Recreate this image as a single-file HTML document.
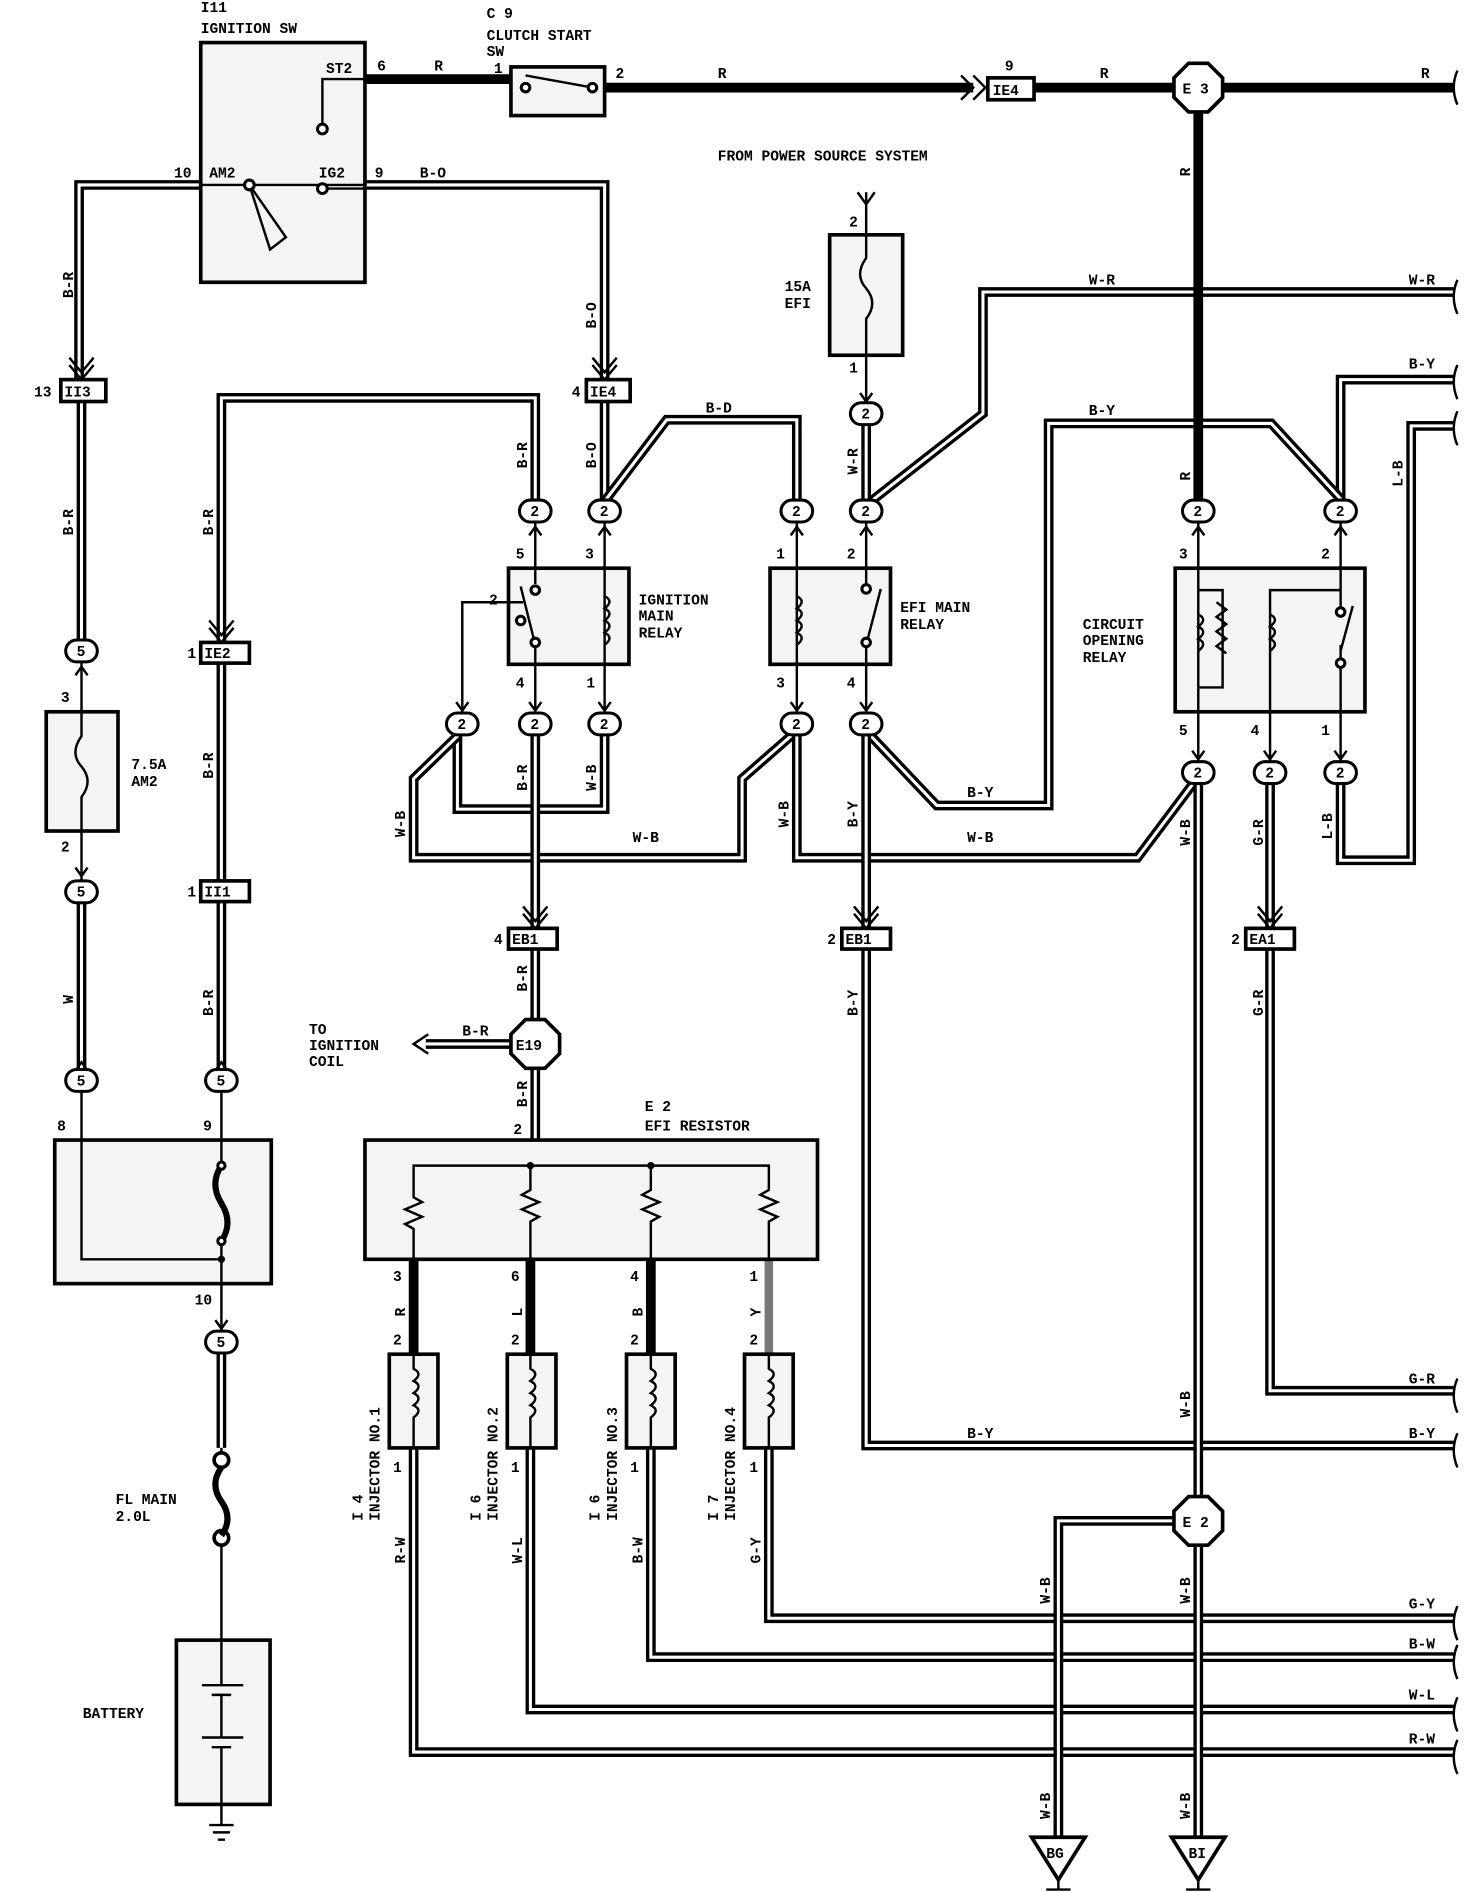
<!DOCTYPE html>
<html><head><meta charset="utf-8"><style>
html,body{margin:0;padding:0;background:#fff}
svg{display:block}
text{font-family:"Liberation Mono",monospace;font-weight:bold;font-size:12px;fill:#000}
.o{fill:none;stroke:#000;stroke-width:8;stroke-linejoin:miter}
.i{fill:none;stroke:#fff;stroke-width:2.5;stroke-linejoin:miter}
.t{fill:none;stroke:#000;stroke-width:2}
.k{fill:none;stroke:#000;stroke-width:8}
.bx{fill:#f4f4f4;stroke:#000;stroke-width:3}
.cn{fill:#fff;stroke:#000;stroke-width:2.5}
</style></head><body>
<svg width="1472" height="1892" viewBox="0 0 1210 1555" preserveAspectRatio="none" xmlns="http://www.w3.org/2000/svg">
<path class="o" d="M165,152 H65 V318"/><path class="i" d="M165,152 H65 V318"/>
<path class="o" d="M67,330 V525"/><path class="i" d="M67,330 V525"/>
<path class="o" d="M300,152 H497 V312"/><path class="i" d="M300,152 H497 V312"/>
<path class="o" d="M497,330 V410"/><path class="i" d="M497,330 V410"/>
<path class="o" d="M497,412 L548,345 H655 V410"/><path class="i" d="M497,412 L548,345 H655 V410"/>
<path class="o" d="M440,410 V327 H182 V528"/><path class="i" d="M440,410 V327 H182 V528"/>
<path class="o" d="M182,545 V724"/><path class="i" d="M182,545 V724"/>
<path class="o" d="M182,741 V878"/><path class="i" d="M182,741 V878"/>
<path class="o" d="M67,743 V878"/><path class="i" d="M67,743 V878"/>
<path class="o" d="M712,350 V410"/><path class="i" d="M712,350 V410"/>
<path class="o" d="M716,412 L808,340 V240 H1195"/><path class="i" d="M716,412 L808,340 V240 H1195"/>
<path class="o" d="M1102,410 V312 H1195"/><path class="i" d="M1102,410 V312 H1195"/>
<path class="o" d="M1102,645 V707 H1160 V350 H1195"/><path class="i" d="M1102,645 V707 H1160 V350 H1195"/>
<path class="o" d="M712,780 V1188 H1195"/><path class="i" d="M712,780 V1188 H1195"/>
<path class="o" d="M1044,645 V763"/><path class="i" d="M1044,645 V763"/>
<path class="o" d="M1044,780 V1143 H1195"/><path class="i" d="M1044,780 V1143 H1195"/>
<path class="o" d="M1102,410 L1045,348 H862 V662 H770 L716,605"/><path class="i" d="M1102,410 L1045,348 H862 V662 H770 L716,605"/>
<path class="o" d="M376,605 V665 H497 V605"/><path class="i" d="M376,605 V665 H497 V605"/>
<path class="o" d="M376,605 L340,640 V705 H610 V640 L650,605"/><path class="i" d="M376,605 L340,640 V705 H610 V640 L650,605"/>
<path class="o" d="M655,605 V705 H935 L980,645"/><path class="i" d="M655,605 V705 H935 L980,645"/>
<path class="o" d="M440,605 V763"/><path class="i" d="M440,605 V763"/>
<path class="o" d="M712,605 V763"/><path class="i" d="M712,605 V763"/>
<path class="o" d="M440,780 V840"/><path class="i" d="M440,780 V840"/>
<path class="o" d="M440,876 V937"/><path class="i" d="M440,876 V937"/>
<path class="o" d="M632,1190 V1330 H1195"/><path class="i" d="M632,1190 V1330 H1195"/>
<path class="o" d="M535,1190 V1362 H1195"/><path class="i" d="M535,1190 V1362 H1195"/>
<path class="o" d="M436,1190 V1405 H1195"/><path class="i" d="M436,1190 V1405 H1195"/>
<path class="o" d="M340,1190 V1440 H1195"/><path class="i" d="M340,1190 V1440 H1195"/>
<path class="o" d="M985,645 V1230"/><path class="i" d="M985,645 V1230"/>
<path class="o" d="M965,1250 H870 V1510"/><path class="i" d="M965,1250 H870 V1510"/>
<path class="o" d="M985,1270 V1510"/><path class="i" d="M985,1270 V1510"/>
<path class="o" d="M182,1113 V1190"/><path class="i" d="M182,1113 V1190"/>
<!-- thick R -->
<path class="k" d="M300,65 H420 M497,72 H800 M850,72 H1195 M985,90 V412"/>
<path class="k" d="M340,1035 V1113 M436,1035 V1113 M535,1035 V1113"/>
<path d="M632,1035 V1113" stroke="#777" stroke-width="7" fill="none"/>
<g class="t" stroke-width="2.5">
<path d="M1198,58 q-6,14 0,28 M1198,230 q-6,14 0,28 M1198,300 q-6,14 0,28 M1198,338 q-6,14 0,28 M1198,1133 q-6,14 0,28 M1198,1178 q-6,14 0,28 M1198,1320 q-6,14 0,28 M1198,1352 q-6,14 0,28 M1198,1395 q-6,14 0,28 M1198,1430 q-6,14 0,28"/>
</g>
<!-- Ignition SW -->
<rect class="bx" x="165" y="35" width="135" height="197" fill="#fafafa"/>
<path class="t" d="M300,65 H265 V102 M165,152 H300 M205,152 L235,195 L222,205 Z M265,155 H300"/>
<circle cx="265" cy="106" r="4" class="cn"/><circle cx="265" cy="155" r="4" class="cn"/><circle cx="205" cy="152" r="4" class="cn"/>
<text x="165" y="10">I11</text><text x="165" y="27">IGNITION SW</text>
<text x="268" y="60">ST2</text><text x="310" y="58">6</text><text x="143" y="146">10</text><text x="172" y="146">AM2</text>
<text x="262" y="146">IG2</text><text x="308" y="146">9</text><text x="345" y="146">B-O</text><text x="357" y="58">R</text>
<!-- clutch -->
<rect class="bx" x="420" y="55" width="77" height="40"/>
<path class="t" d="M432,62 L487,72"/><circle cx="432" cy="72" r="3.5" class="cn"/><circle cx="487" cy="72" r="3.5" class="cn"/>
<text x="400" y="15">C 9</text><text x="400" y="33">CLUTCH START</text><text x="400" y="46">SW</text>
<text x="406" y="60">1</text><text x="506" y="64">2</text><text x="590" y="64">R</text><text x="904" y="64">R</text><text x="1168" y="64">R</text>
<path class="t" stroke-width="3" d="M790,62 l10,10 l-10,10 M800,62 l10,10 l-10,10"/>
<rect x="812" y="64" width="38" height="18" fill="#fff" stroke="#000" stroke-width="3"/><text x="816" y="78">IE4</text><text x="826" y="58">9</text>
<polygon points="977,52 993,52 1005,64 1005,80 993,92 977,92 965,80 965,64" fill="#fff" stroke="#000" stroke-width="3"/>
<text x="972" y="77">E 3</text>
<text x="590" y="132">FROM POWER SOURCE SYSTEM</text>
<!-- EFI fuse -->
<rect class="bx" x="682" y="193" width="60" height="99"/>
<path class="t" d="M712,158 V212 q-10,14 0,25 q10,12 0,25 V330 M705,158 L712,168 L719,158"/>
<text x="698" y="186">2</text><text x="698" y="306">1</text><text x="645" y="239">15A</text><text x="645" y="253">EFI</text>
<text x="895" y="234">W-R</text><text x="1158" y="234">W-R</text>
<text x="1158" y="303">B-Y</text><text x="895" y="341">B-Y</text><text x="580" y="339">B-D</text>
<g fill="#fff" stroke="#000" stroke-width="3">
<rect x="482" y="312" width="36" height="18"/><rect x="50" y="312" width="37" height="18"/>
<rect x="165" y="528" width="40" height="17"/><rect x="165" y="724" width="40" height="17"/>
<rect x="418" y="763" width="40" height="17"/><rect x="692" y="763" width="40" height="17"/><rect x="1024" y="763" width="40" height="17"/>
</g>
<text x="485" y="326">IE4</text><text x="470" y="326">4</text><text x="53" y="326">II3</text><text x="28" y="326">13</text>
<text x="168" y="541">IE2</text><text x="154" y="541">1</text><text x="168" y="737">II1</text><text x="154" y="737">1</text>
<text x="421" y="776">EB1</text><text x="406" y="776">4</text><text x="695" y="776">EB1</text><text x="680" y="776">2</text>
<text x="1027" y="776">EA1</text><text x="1012" y="776">2</text>
<g class="t" stroke-width="3">
<path d="M57,300 l10,12 l10,-12 M57,294 l10,12 l10,-12"/>
<path d="M487,300 l10,12 l10,-12 M487,294 l10,12 l10,-12"/>
<path d="M172,516 l10,12 l10,-12 M172,510 l10,12 l10,-12"/>
<path d="M430,751 l10,12 l10,-12 M430,745 l10,12 l10,-12"/>
<path d="M702,751 l10,12 l10,-12 M702,745 l10,12 l10,-12"/>
<path d="M1034,751 l10,12 l10,-12 M1034,745 l10,12 l10,-12"/>
</g>
<!-- relays -->
<rect class="bx" x="418" y="467" width="99" height="79"/>
<rect class="bx" x="633" y="467" width="99" height="79"/>
<rect class="bx" x="966" y="467" width="156" height="118"/>
<g class="t">
<path d="M440,430 V480 M440,530 V585 M428,482 L440,530 M497,430 V585 M405,495 H380 V585 M405,495 H430"/>
<path d="M655,430 V585 M712,430 V480 M712,530 V585 M712,530 L724,484"/>
<path d="M985,430 V625 M985,485 H1005 V565 H985 M1044,625 V485 H1102 M1102,430 V500 M1102,530 V625 M1102,535 L1112,498"/>
<path d="M1000,495 l8,6 l-8,6 l8,6 l-8,6 l8,6 l-8,6 l8,6"/>
<path d="M497,490 q8,4 0,10 q8,4 0,10 q8,4 0,10 q8,4 0,10 M655,490 q8,4 0,10 q8,4 0,10 q8,4 0,10 q8,4 0,10 M985,505 q8,4 0,10 q8,4 0,10 q8,4 0,10 M1044,505 q8,4 0,10 q8,4 0,10 q8,4 0,10"/>
</g>
<g class="cn"><circle cx="440" cy="485" r="3.5"/><circle cx="428" cy="510" r="3.5"/><circle cx="440" cy="528" r="3.5"/><circle cx="712" cy="484" r="3.5"/><circle cx="712" cy="528" r="3.5"/><circle cx="1102" cy="503" r="3.5"/><circle cx="1102" cy="545" r="3.5"/></g>
<text x="525" y="497">IGNITION</text><text x="525" y="510">MAIN</text><text x="525" y="524">RELAY</text>
<text x="740" y="503">EFI MAIN</text><text x="740" y="517">RELAY</text>
<text x="890" y="517">CIRCUIT</text><text x="890" y="530">OPENING</text><text x="890" y="544">RELAY</text>
<text x="424" y="459">5</text><text x="481" y="459">3</text><text x="402" y="497">2</text><text x="424" y="565">4</text><text x="482" y="565">1</text>
<text x="638" y="459">1</text><text x="696" y="459">2</text><text x="638" y="565">3</text><text x="696" y="565">4</text>
<text x="969" y="459">3</text><text x="1086" y="459">2</text><text x="969" y="604">5</text><text x="1028" y="604">4</text><text x="1086" y="604">1</text>
<g>
<g transform="translate(440,420)"><rect x="-13" y="-9" width="26" height="18" rx="9" class="cn"/><text x="-4" y="4">2</text></g>
<g transform="translate(497,420)"><rect x="-13" y="-9" width="26" height="18" rx="9" class="cn"/><text x="-4" y="4">2</text></g>
<g transform="translate(655,420)"><rect x="-13" y="-9" width="26" height="18" rx="9" class="cn"/><text x="-4" y="4">2</text></g>
<g transform="translate(712,420)"><rect x="-13" y="-9" width="26" height="18" rx="9" class="cn"/><text x="-4" y="4">2</text></g>
<g transform="translate(712,340)"><rect x="-13" y="-9" width="26" height="18" rx="9" class="cn"/><text x="-4" y="4">2</text></g>
<g transform="translate(985,420)"><rect x="-13" y="-9" width="26" height="18" rx="9" class="cn"/><text x="-4" y="4">2</text></g>
<g transform="translate(1102,420)"><rect x="-13" y="-9" width="26" height="18" rx="9" class="cn"/><text x="-4" y="4">2</text></g>
<g transform="translate(380,595)"><rect x="-13" y="-9" width="26" height="18" rx="9" class="cn"/><text x="-4" y="4">2</text></g>
<g transform="translate(440,595)"><rect x="-13" y="-9" width="26" height="18" rx="9" class="cn"/><text x="-4" y="4">2</text></g>
<g transform="translate(497,595)"><rect x="-13" y="-9" width="26" height="18" rx="9" class="cn"/><text x="-4" y="4">2</text></g>
<g transform="translate(655,595)"><rect x="-13" y="-9" width="26" height="18" rx="9" class="cn"/><text x="-4" y="4">2</text></g>
<g transform="translate(712,595)"><rect x="-13" y="-9" width="26" height="18" rx="9" class="cn"/><text x="-4" y="4">2</text></g>
<g transform="translate(985,635)"><rect x="-13" y="-9" width="26" height="18" rx="9" class="cn"/><text x="-4" y="4">2</text></g>
<g transform="translate(1044,635)"><rect x="-13" y="-9" width="26" height="18" rx="9" class="cn"/><text x="-4" y="4">2</text></g>
<g transform="translate(1102,635)"><rect x="-13" y="-9" width="26" height="18" rx="9" class="cn"/><text x="-4" y="4">2</text></g>
<g transform="translate(67,535)"><rect x="-13" y="-9" width="26" height="18" rx="9" class="cn"/><text x="-4" y="4">5</text></g>
<g transform="translate(67,733)"><rect x="-13" y="-9" width="26" height="18" rx="9" class="cn"/><text x="-4" y="4">5</text></g>
<g transform="translate(67,888)"><rect x="-13" y="-9" width="26" height="18" rx="9" class="cn"/><text x="-4" y="4">5</text></g>
<g transform="translate(182,888)"><rect x="-13" y="-9" width="26" height="18" rx="9" class="cn"/><text x="-4" y="4">5</text></g>
<g transform="translate(182,1103)"><rect x="-13" y="-9" width="26" height="18" rx="9" class="cn"/><text x="-4" y="4">5</text></g>
</g>
<g>
<text transform="translate(60,245) rotate(-90)">B-R</text><text transform="translate(60,440) rotate(-90)">B-R</text>
<text transform="translate(175,440) rotate(-90)">B-R</text><text transform="translate(175,640) rotate(-90)">B-R</text>
<text transform="translate(175,835) rotate(-90)">B-R</text><text transform="translate(60,825) rotate(-90)">W</text>
<text transform="translate(490,270) rotate(-90)">B-O</text><text transform="translate(490,385) rotate(-90)">B-O</text>
<text transform="translate(433,385) rotate(-90)">B-R</text><text transform="translate(705,390) rotate(-90)">W-R</text>
<text transform="translate(978,145) rotate(-90)">R</text><text transform="translate(978,395) rotate(-90)">R</text>
<text transform="translate(1153,400) rotate(-90)">L-B</text><text transform="translate(1095,690) rotate(-90)">L-B</text>
<text transform="translate(1038,695) rotate(-90)">G-R</text><text transform="translate(1038,835) rotate(-90)">G-R</text>
<text transform="translate(978,695) rotate(-90)">W-B</text><text transform="translate(978,1165) rotate(-90)">W-B</text>
<text transform="translate(978,1318) rotate(-90)">W-B</text><text transform="translate(978,1495) rotate(-90)">W-B</text>
<text transform="translate(863,1318) rotate(-90)">W-B</text><text transform="translate(863,1495) rotate(-90)">W-B</text>
<text transform="translate(648,680) rotate(-90)">W-B</text><text transform="translate(705,680) rotate(-90)">B-Y</text>
<text transform="translate(705,835) rotate(-90)">B-Y</text><text transform="translate(333,688) rotate(-90)">W-B</text>
<text transform="translate(433,650) rotate(-90)">B-R</text><text transform="translate(490,650) rotate(-90)">W-B</text>
<text transform="translate(433,815) rotate(-90)">B-R</text><text transform="translate(433,910) rotate(-90)">B-R</text>
<text transform="translate(333,1082) rotate(-90)">R</text><text transform="translate(429,1082) rotate(-90)">L</text>
<text transform="translate(528,1082) rotate(-90)">B</text><text transform="translate(625,1082) rotate(-90)">Y</text>
<text transform="translate(333,1285) rotate(-90)">R-W</text><text transform="translate(429,1285) rotate(-90)">W-L</text>
<text transform="translate(528,1285) rotate(-90)">B-W</text><text transform="translate(625,1285) rotate(-90)">G-Y</text>
<text transform="translate(172,1010) rotate(-90)">40A AM2</text>
</g>
<text x="520" y="692">W-B</text><text x="795" y="692">W-B</text><text x="795" y="655">B-Y</text>
<text x="795" y="1182">B-Y</text><text x="1158" y="1182">B-Y</text><text x="1158" y="1137">G-R</text>
<text x="1158" y="1322">G-Y</text><text x="1158" y="1355">B-W</text><text x="1158" y="1397">W-L</text><text x="1158" y="1433">R-W</text>
<!-- E19 -->
<path class="o" d="M425,858 H350"/><path class="i" d="M425,858 H350"/>
<path class="t" stroke-width="3" d="M352,850 l-12,8 l12,8"/>
<polygon points="432,838 448,838 460,850 460,866 448,878 432,878 420,866 420,850" fill="#fff" stroke="#000" stroke-width="3"/>
<text x="424" y="863">E19</text>
<text x="254" y="850">TO</text><text x="254" y="863">IGNITION</text><text x="254" y="876">COIL</text><text x="380" y="851">B-R</text>
<!-- EFI resistor -->
<rect class="bx" x="300" y="937" width="372" height="98" fill="#e8e8e8"/>
<path class="t" d="M340,1035 V1010 l-7,-4 l14,-6 l-14,-6 l14,-6 l-7,-4 V958 H632 V978 l-7,4 l14,6 l-14,6 l14,6 l-7,4 V1035 M436,958 V978 l-7,4 l14,6 l-14,6 l14,6 l-7,4 V1035 M535,958 V978 l-7,4 l14,6 l-14,6 l14,6 l-7,4 V1035"/>
<circle cx="436" cy="958" r="3"/><circle cx="535" cy="958" r="3"/>
<text x="530" y="913">E 2</text><text x="530" y="929">EFI RESISTOR</text><text x="422" y="932">2</text>
<text x="323" y="1053">3</text><text x="420" y="1053">6</text><text x="518" y="1053">4</text><text x="616" y="1053">1</text>
<text x="323" y="1105">2</text><text x="420" y="1105">2</text><text x="518" y="1105">2</text><text x="616" y="1105">2</text>
<text x="323" y="1210">1</text><text x="420" y="1210">1</text><text x="518" y="1210">1</text><text x="616" y="1210">1</text>
<g>
<rect class="bx" x="320" y="1113" width="40" height="77"/><rect class="bx" x="417" y="1113" width="40" height="77"/>
<rect class="bx" x="515" y="1113" width="40" height="77"/><rect class="bx" x="612" y="1113" width="40" height="77"/>
<path class="t" d="M340,1113 V1125 q8,4 0,10 q8,4 0,10 q8,4 0,10 q8,4 0,10 V1190 M436,1113 V1125 q8,4 0,10 q8,4 0,10 q8,4 0,10 q8,4 0,10 V1190 M535,1113 V1125 q8,4 0,10 q8,4 0,10 q8,4 0,10 q8,4 0,10 V1190 M632,1113 V1125 q8,4 0,10 q8,4 0,10 q8,4 0,10 q8,4 0,10 V1190"/>
</g>
<text transform="translate(298,1250) rotate(-90)">I 4</text><text transform="translate(312,1250) rotate(-90)">INJECTOR NO.1</text>
<text transform="translate(395,1250) rotate(-90)">I 6</text><text transform="translate(409,1250) rotate(-90)">INJECTOR NO.2</text>
<text transform="translate(493,1250) rotate(-90)">I 6</text><text transform="translate(507,1250) rotate(-90)">INJECTOR NO.3</text>
<text transform="translate(590,1250) rotate(-90)">I 7</text><text transform="translate(604,1250) rotate(-90)">INJECTOR NO.4</text>
<polygon points="977,1230 993,1230 1005,1242 1005,1258 993,1270 977,1270 965,1258 965,1242" fill="#fff" stroke="#000" stroke-width="3"/>
<text x="972" y="1255">E 2</text>
<polygon points="848,1510 892,1510 870,1545" fill="#fff" stroke="#000" stroke-width="3"/><text x="860" y="1527">BG</text>
<polygon points="963,1510 1007,1510 985,1545" fill="#fff" stroke="#000" stroke-width="3"/><text x="977" y="1527">BI</text>
<path class="t" stroke-width="2.5" d="M870,1545 V1553 M860,1553 H880 M985,1545 V1553 M975,1553 H995"/>
<rect class="bx" x="38" y="585" width="59" height="98"/>
<path class="t" d="M67,545 V605 q-10,14 0,25 q10,12 0,25 V723"/>
<text x="50" y="577">3</text><text x="50" y="700">2</text><text x="108" y="632">7.5A</text><text x="108" y="646">AM2</text>
<rect class="bx" x="45" y="937" width="178" height="118"/>
<path class="t" d="M67,898 V1035 H182 M182,898 V958 M182,1020 V1095"/>
<path d="M182,958 q-10,15 0,31 q10,16 0,31" fill="none" stroke="#000" stroke-width="5"/>
<circle cx="182" cy="958" r="3" class="cn"/><circle cx="182" cy="1020" r="3" class="cn"/><circle cx="182" cy="1035" r="3"/>
<text x="47" y="929">8</text><text x="167" y="929">9</text><text x="160" y="1072">10</text>
<path class="t" d="M182,1200 V1190 M182,1270 V1348 M182,1483 V1500"/>
<circle cx="182" cy="1200" r="6" fill="#fff" stroke="#000" stroke-width="3"/><circle cx="182" cy="1264" r="6" fill="#fff" stroke="#000" stroke-width="3"/>
<path d="M182,1206 q-10,14 0,28 q10,14 0,28" fill="none" stroke="#000" stroke-width="5"/>
<text x="95" y="1236">FL MAIN</text><text x="95" y="1250">2.0L</text>
<rect class="bx" x="145" y="1348" width="77" height="135"/>
<path class="t" d="M182,1348 V1385 M166,1385 H200 M182,1393 V1428 M166,1428 H200 M182,1436 V1483" stroke-width="3"/>
<path class="t" stroke-width="5" d="M174,1393 H190 M174,1436 H190"/>
<text x="68" y="1412">BATTERY</text>
<path class="t" stroke-width="2.5" d="M172,1500 H192 M175,1506 H189 M179,1512 H185"/>
<g class="t" stroke-width="3">
<path d="M62,555 l5,-7 l5,7 M62,880 l5,-7 l5,7 M177,880 l5,-7 l5,7 M62,713 l5,7 l5,-7 M177,1085 l5,7 l5,-7"/>
<path d="M435,440 l5,-7 l5,7 M492,440 l5,-7 l5,7 M650,440 l5,-7 l5,7 M707,440 l5,-7 l5,7 M980,440 l5,-7 l5,7 M1097,440 l5,-7 l5,7"/>
<path d="M375,577 l5,7 l5,-7 M435,577 l5,7 l5,-7 M492,577 l5,7 l5,-7 M650,577 l5,7 l5,-7 M707,577 l5,7 l5,-7 M980,617 l5,7 l5,-7 M1039,617 l5,7 l5,-7 M1097,617 l5,7 l5,-7 M707,323 l5,7 l5,-7"/>
</g>
</svg>
</body></html>
